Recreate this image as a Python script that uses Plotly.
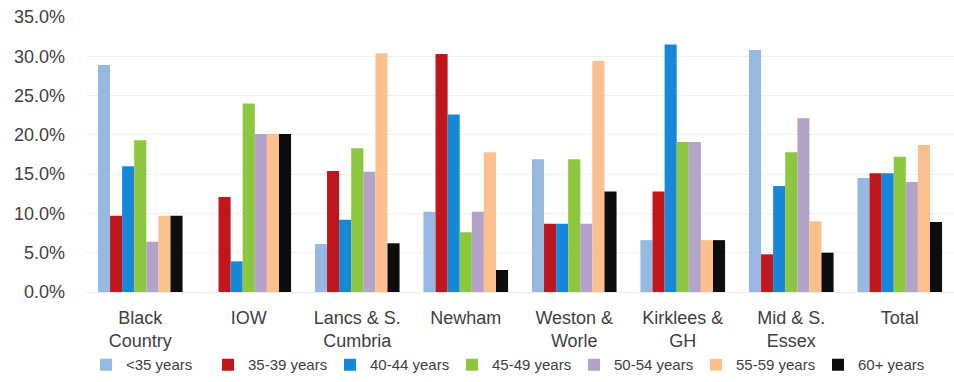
import plotly.graph_objects as go

areas = ["Black<br>Country", "IOW", "Lancs & S.<br>Cumbria", "Newham",
         "Weston &<br>Worle", "Kirklees &<br>GH", "Mid & S.<br>Essex", "Total"]

age_groups = ["<35 years", "35-39 years", "40-44 years", "45-49 years",
              "50-54 years", "55-59 years", "60+ years"]

under_35 = [28.9, 0.0, 6.1, 10.2, 16.9, 6.6, 30.8, 14.5]
age_35_39 = [9.7, 12.1, 15.4, 30.3, 8.7, 12.8, 4.8, 15.1]
age_40_44 = [16.0, 3.9, 9.2, 22.6, 8.7, 31.5, 13.5, 15.1]
age_45_49 = [19.3, 24.0, 18.3, 7.6, 16.9, 19.1, 17.8, 17.2]
age_50_54 = [6.4, 20.1, 15.3, 10.2, 8.7, 19.1, 22.1, 14.0]
age_55_59 = [9.7, 20.1, 30.4, 17.8, 29.4, 6.6, 9.0, 18.7]
age_60_plus = [9.7, 20.1, 6.2, 2.8, 12.8, 6.6, 5.0, 8.9]

series = [under_35, age_35_39, age_40_44, age_45_49, age_50_54, age_55_59, age_60_plus]
colors = ["#95B9E1", "#C0171C", "#1787D8", "#8DC63F", "#B4A3C8", "#FBC08E", "#0D0D0D"]

fig = go.Figure()
for name, vals, col in zip(age_groups, series, colors):
    fig.add_trace(go.Bar(x=areas, y=[v / 100 for v in vals], name=name,
                         marker=dict(color=col, line=dict(width=0))))

font_family = "Liberation Sans, Arial"
text_color = "#404040"

fig.update_layout(
    width=954, height=382,
    margin=dict(l=86, r=0, t=17, b=90),
    paper_bgcolor="white", plot_bgcolor="white",
    barmode="group", bargap=0.22, bargroupgap=0,
    font=dict(family=font_family, size=18, color=text_color),
    showlegend=True,
    legend=dict(orientation="h", x=0.0, y=-0.325, xanchor="left", yanchor="bottom",
                bgcolor="rgba(0,0,0,0)",
                font=dict(size=15, color=text_color), itemwidth=30,
                entrywidth=77, entrywidthmode="pixels", tracegroupgap=0),
    xaxis=dict(showgrid=False, ticks="", showline=True, linecolor="#ececec",
               tickfont=dict(size=18), ticklabelstandoff=9, automargin=False),
    yaxis=dict(range=[0, 0.35], dtick=0.05, tickformat=".1%",
               gridcolor="#efefef", gridwidth=1, zeroline=False,
               showline=False, tickfont=dict(size=18), ticklabelstandoff=20,
               automargin=False),
)

fig.write_html("out.html")
